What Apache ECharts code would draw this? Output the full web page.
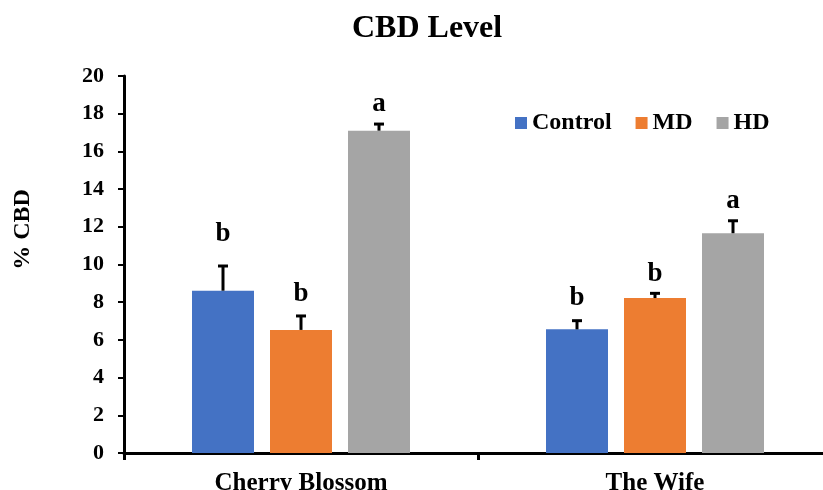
<!DOCTYPE html>
<html>
<head>
<meta charset="utf-8">
<script src="https://cdn.jsdelivr.net/npm/echarts@6/dist/echarts.min.js"></script>
<style>html,body{margin:0;padding:0;background:#fff;overflow:hidden}#c{width:832px;height:490px}</style>
</head>
<body>
<div id="c"></div>
<script>
const categories = ['Cherry Blossom', 'The Wife'];
const seriesNames = ['Control', 'MD', 'HD'];
const controlValues = [8.61, 6.56];
const mdValues = [6.53, 8.22];
const hdValues = [17.1, 11.66];
const controlErr = [1.31, 0.46];
const mdErr = [0.74, 0.25];
const hdErr = [0.35, 0.66];
const controlLetters = ['b', 'b'];
const mdLetters = ['b', 'b'];
const hdLetters = ['a', 'a'];
const controlLetterY = [11.21, 7.80];
const mdLetterY = [8.03, 9.12];
const hdLetterY = [18.11, 12.98];
const yTicks = [0, 2, 4, 6, 8, 10, 12, 14, 16, 18, 20];

const colors = ['#4472C4', '#ED7D31', '#A5A5A5'];
const FONT = '"Liberation Serif", "Times New Roman", serif';
const BAR_W = 62, BAR_GAP = 16;
const LETTER_SIZE = 27;

const values = [controlValues, mdValues, hdValues];
const errs = [controlErr, mdErr, hdErr];
const letters = [controlLetters, mdLetters, hdLetters];
const letterY = [controlLetterY, mdLetterY, hdLetterY];

const chart = echarts.init(document.getElementById('c'), null, {renderer: 'canvas'});

const series = [];
seriesNames.forEach((name, i) => {
  series.push({
    name: name,
    type: 'bar',
    data: values[i],
    barWidth: BAR_W,
    barGap: (BAR_GAP / BAR_W * 100) + '%',
    itemStyle: {color: colors[i]},
    z: 2
  });
});
seriesNames.forEach((name, i) => {
  series.push({
    type: 'custom',
    z: 5,
    silent: true,
    data: categories.map((c, k) => [k, values[i][k], errs[i][k], letterY[i][k]]),
    renderItem: function (params, api) {
      const k = api.value(0);
      const off = (i - 1) * (BAR_W + BAR_GAP);
      const base = api.coord([k, api.value(1)]);
      const top = api.coord([k, api.value(1) + api.value(2)]);
      const ly = api.coord([k, api.value(3)]);
      const x = base[0] + off;
      const cap = 5;
      return {
        type: 'group',
        children: [
          {type: 'line', shape: {x1: x, y1: base[1], x2: x, y2: top[1]}, style: {stroke: '#000', lineWidth: 3}},
          {type: 'line', shape: {x1: x - cap, y1: top[1], x2: x + cap, y2: top[1]}, style: {stroke: '#000', lineWidth: 3}},
          {type: 'text', x: x, y: ly[1] + Math.round(LETTER_SIZE * 0.22), style: {text: letters[i][k], fill: '#000', font: 'bold ' + LETTER_SIZE + 'px ' + FONT, align: 'center', verticalAlign: 'bottom'}}
        ]
      };
    }
  });
});

chart.setOption({
  animation: false,
  backgroundColor: '#fff',
  title: {
    text: 'CBD Level',
    left: 347,
    top: 8,
    textStyle: {fontFamily: FONT, fontWeight: 'bold', fontSize: 32, color: '#000'}
  },
  legend: {
    data: seriesNames,
    left: 510,
    top: 106,
    icon: 'rect',
    itemWidth: 12,
    itemHeight: 12,
    itemGap: 24,
    textStyle: {fontFamily: FONT, fontWeight: 'bold', fontSize: 24, color: '#000'}
  },
  grid: {left: 124, right: 0, top: 76, bottom: 37, containLabel: false, outerBoundsMode: 'none'},
  xAxis: {
    type: 'category',
    data: categories,
    axisLine: {lineStyle: {color: '#000', width: 3}},
    axisTick: {show: true, length: 7, lineStyle: {color: '#000', width: 3}},
    axisLabel: {fontFamily: FONT, fontWeight: 'bold', fontSize: 25, color: '#000', margin: 18}
  },
  yAxis: {
    type: 'value',
    min: yTicks[0],
    max: yTicks[yTicks.length - 1],
    interval: yTicks[1] - yTicks[0],
    name: '% CBD',
    nameLocation: 'middle',
    nameGap: 89,
    nameTextStyle: {fontFamily: FONT, fontWeight: 'bold', fontSize: 24, color: '#000', padding: [0, 0, 0, 70]},
    axisLine: {show: true, lineStyle: {color: '#000', width: 3}},
    axisTick: {show: true, length: 6, lineStyle: {color: '#000', width: 2}},
    splitLine: {show: false},
    axisLabel: {fontFamily: FONT, fontWeight: 'bold', fontSize: 22, color: '#000', margin: 20}
  },
  series: series
});
</script>
</body>
</html>
